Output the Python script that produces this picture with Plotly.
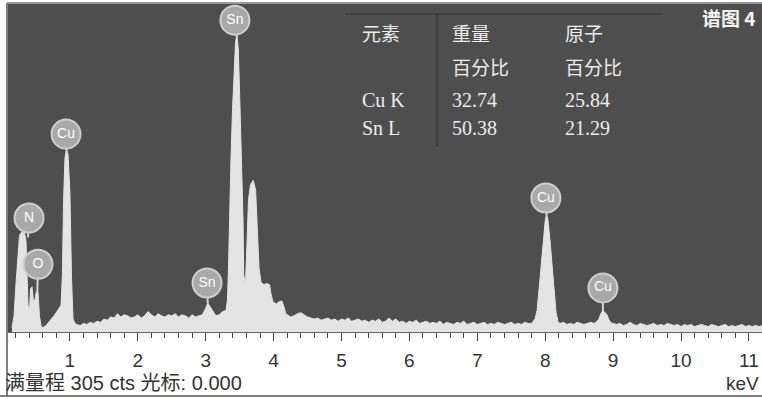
import numpy as np
import plotly.graph_objects as go

# ---------------- data ----------------
# low-energy region, N / O / Cu L
low_keV = [0.147, 0.177, 0.206, 0.236, 0.258, 0.295, 0.331, 0.353, 0.368, 0.383,
           0.405, 0.420, 0.442, 0.464, 0.486, 0.508, 0.530, 0.552, 0.574, 0.604,
           0.648, 0.707, 0.766, 0.810, 0.854, 0.870, 0.890, 0.906, 0.928, 0.950,
           0.972, 1.000, 1.024, 1.046, 1.075]
low_cts = [4, 15, 45, 75, 90, 93, 92, 85, 50, 25,
           20, 40, 42, 28, 30, 38, 37, 15, 6, 4,
           6, 10, 15, 19, 23, 25, 55, 120, 162, 170,
           165, 130, 50, 12, 8]

# background 1.10 - 2.90 keV (step 0.05)
bg1_start, bg1_step = 1.10, 0.05
bg1_cts = [7, 6, 8, 7, 9, 8, 10, 9, 12, 11, 14, 13, 17, 14, 16, 15, 13, 14, 16,
           13, 15, 19, 16, 14, 17, 15, 14, 16, 15, 17, 14, 16, 15, 13, 16, 14, 15]

# Sn L region
sn_keV = [2.95, 3.00, 3.03, 3.06, 3.10, 3.15, 3.20, 3.25, 3.30, 3.32, 3.335, 3.35,
          3.372, 3.395, 3.42, 3.44, 3.46, 3.48, 3.50, 3.525, 3.55, 3.56, 3.585,
          3.61, 3.63, 3.66, 3.70, 3.735, 3.765, 3.785, 3.815, 3.86, 3.90, 3.94,
          3.96, 3.99, 4.04, 4.08, 4.12, 4.15, 4.18, 4.23]
sn_cts = [16, 22, 27, 24, 20, 15, 16, 19, 20, 30, 58, 114,
          160, 207, 249, 270, 276, 263, 221, 170, 104, 53, 44,
          86, 123, 137, 141, 132, 95, 60, 46, 44, 45, 44,
          36, 28, 26, 28, 29, 24, 17, 15]

# background 4.25 - 7.80 keV (step 0.05)
bg2_start, bg2_step = 4.25, 0.05
bg2_cts = [14, 15, 17, 18, 16, 14, 13, 12, 13, 11, 12, 13, 11, 12, 10, 12, 11, 13,
           10, 11, 12, 10, 11, 9, 11, 10, 12, 9, 10, 13, 10, 12, 9, 10, 8, 10,
           9, 11, 8, 9, 10, 8, 9, 8, 10, 7, 9, 8, 7, 9, 8, 10, 7, 8,
           9, 7, 8, 9, 7, 8, 7, 9, 8, 7, 8, 9, 7, 8, 7, 9, 8, 8]

# Cu K alpha
cuka_keV = [7.85, 7.88, 7.91, 7.94, 7.97, 8.00, 8.02, 8.04, 8.07, 8.10, 8.13, 8.16, 8.19]
cuka_cts = [12, 20, 40, 62, 84, 103, 110, 104, 86, 62, 38, 18, 9]

# background 8.22 - 8.72 keV (step 0.05)
bg3_start, bg3_step = 8.22, 0.05
bg3_cts = [8, 9, 7, 8, 7, 9, 8, 7, 8, 9, 8]

# Cu K beta
cukb_keV = [8.75, 8.79, 8.82, 8.85, 8.88, 8.91, 8.94, 8.98]
cukb_cts = [9, 12, 17, 20, 18, 16, 11, 8]

# background 9.00 - 11.20 keV (step 0.05)
bg4_start, bg4_step = 9.00, 0.05
bg4_cts = [8, 7, 8, 6, 7, 9, 7, 6, 8, 7, 6, 7, 8, 6, 7, 6, 8, 7, 6, 7, 5, 7, 6,
           7, 5, 6, 7, 6, 5, 7, 6, 5, 6, 7, 5, 6, 5, 6, 7, 5, 6, 5, 6, 5, 6]

# peak labels
lab_text = ["Sn", "Cu", "N", "O", "Sn", "Cu", "Cu"]
lab_keV = [3.43, 0.943, 0.398, 0.53, 3.02, 8.01, 8.85]
lab_cts = [290, 184, 106, 63, 45.5, 124.6, 41]
stem_keV = [3.46, 0.95, 0.383, 0.52, 3.03, 8.02, 8.85]
stem_cts = [274, 169, 88, 37, 27, 109, 19]

# quantification table
tbl_header1 = ["元素", "重量", "原子"]
tbl_header2 = ["", "百分比", "百分比"]
tbl_elem = ["Cu K", "Sn L"]
tbl_wt = ["32.74", "50.38"]
tbl_at = ["25.84", "21.29"]

x_ticks = list(range(1, 12))


def seg(start, step, vals):
    return [round(start + i * step, 3) for i in range(len(vals))]


energy = (low_keV + seg(bg1_start, bg1_step, bg1_cts) + sn_keV +
          seg(bg2_start, bg2_step, bg2_cts) + cuka_keV +
          seg(bg3_start, bg3_step, bg3_cts) + cukb_keV +
          seg(bg4_start, bg4_step, bg4_cts))
counts = (low_cts + bg1_cts + sn_cts + bg2_cts + cuka_cts + bg3_cts + cukb_cts + bg4_cts)

# ---------------- figure ----------------
W, H = 762, 399
ML, MR, MT, MB = 8, 0, 4, 67
PW, PH = W - ML - MR, H - MT - MB


def px(x):
    return (x - ML) / PW


def py(y):
    return (H - MB - y) / PH


fig = go.Figure()

fig.add_trace(go.Scatter(
    x=energy, y=counts, mode="lines", fill="tozeroy",
    line=dict(color="#e4e4e4", width=1), fillcolor="#e4e4e4",
    hoverinfo="skip"))

for xe, yb, xl, yl in zip(stem_keV, stem_cts, lab_keV, lab_cts):
    fig.add_trace(go.Scatter(
        x=[xe, xl], y=[yb, yl], mode="lines",
        line=dict(color="#d6d6d6", width=2), hoverinfo="skip"))

fig.add_trace(go.Scatter(
    x=lab_keV, y=lab_cts, mode="markers+text", text=lab_text,
    textposition="middle center",
    textfont=dict(family="Liberation Sans, Arial", size=14, color="#ffffff"),
    marker=dict(size=29, color="#a9a9a9", line=dict(color="#cfcfcf", width=2)),
    cliponaxis=False, hoverinfo="skip"))

# table
serif = "Liberation Serif, Times New Roman"
cjk = "Noto Sans CJK SC"
tc = "#ececec"
col_x = [360, 450, 563]
ann = []
for i, t in enumerate(tbl_header1):
    ann.append(dict(x=px(col_x[i]), y=py(33), text=t, font=dict(family=cjk, size=19, color=tc)))
for i, t in enumerate(tbl_header2):
    if t:
        ann.append(dict(x=px(col_x[i]), y=py(67), text=t, font=dict(family=cjk, size=19, color=tc)))
for r, yy in enumerate([100, 128]):
    ann.append(dict(x=px(col_x[0]), y=py(yy), text=tbl_elem[r], font=dict(family=serif, size=20, color=tc)))
    ann.append(dict(x=px(col_x[1]), y=py(yy), text=tbl_wt[r], font=dict(family=serif, size=20, color=tc)))
    ann.append(dict(x=px(col_x[2]), y=py(yy), text=tbl_at[r], font=dict(family=serif, size=20, color=tc)))
for a in ann:
    a.update(xref="paper", yref="paper", xanchor="left", yanchor="middle", showarrow=False)

ann.append(dict(x=px(758), y=py(17), xref="paper", yref="paper", xanchor="right", yanchor="middle",
                text="<b>谱图 4</b>", showarrow=False,
                font=dict(family="Noto Sans CJK SC", size=19, color="#f4f4f4")))
ann.append(dict(x=px(761), y=py(383), xref="paper", yref="paper", xanchor="right", yanchor="middle",
                text="keV", showarrow=False,
                font=dict(family="Liberation Sans, Arial", size=19, color="#333333")))
ann.append(dict(x=px(3), y=py(383), xref="paper", yref="paper", xanchor="left", yanchor="middle",
                text="满量程 305 cts 光标: 0.000", showarrow=False,
                font=dict(family="Liberation Sans, Noto Sans CJK SC", size=20, color="#333333")))

shapes = [
    dict(type="line", xref="paper", yref="paper", x0=px(345), x1=px(662), y0=py(14), y1=py(14),
         line=dict(color="#383838", width=1.5)),
    dict(type="line", xref="paper", yref="paper", x0=px(437), x1=px(437), y0=py(14), y1=py(147),
         line=dict(color="#383838", width=1.5)),
    # outer frame
    dict(type="line", xref="paper", yref="paper", x0=px(7), x1=px(7), y0=py(3), y1=py(396),
         line=dict(color="#555555", width=1.5)),
    dict(type="line", xref="paper", yref="paper", x0=px(7), x1=px(762), y0=py(3), y1=py(3),
         line=dict(color="#777777", width=1.5)),
    dict(type="line", xref="paper", yref="paper", x0=px(0), x1=px(762), y0=py(396), y1=py(396),
         line=dict(color="#555555", width=1.5)),
]

fig.update_layout(
    width=W, height=H, margin=dict(l=ML, r=MR, t=MT, b=MB),
    paper_bgcolor="#ffffff", plot_bgcolor="#4e4e4e", showlegend=False,
    annotations=ann, shapes=shapes,
    xaxis=dict(range=[(ML - 2) / 67.9, (W - 2) / 67.9], tickvals=x_ticks,
               ticktext=[str(v) for v in x_ticks], ticks="outside", ticklen=8,
               tickwidth=1, tickcolor="#444444", showline=True, linecolor="#666666",
               linewidth=1, showgrid=False, zeroline=False, ticklabelstandoff=3,
               tickfont=dict(family="Liberation Sans, Arial", size=19, color="#333333"),
               minor=dict(dtick=0.2, tick0=0, ticks="outside", ticklen=5,
                          tickcolor="#444444", showgrid=False)),
    yaxis=dict(range=[0, 305], visible=False, showgrid=False, zeroline=False),
)

fig.write_html("out.html", config={"displayModeBar": False},
               post_script="document.body.style.margin='0';document.body.style.overflow='hidden';")
